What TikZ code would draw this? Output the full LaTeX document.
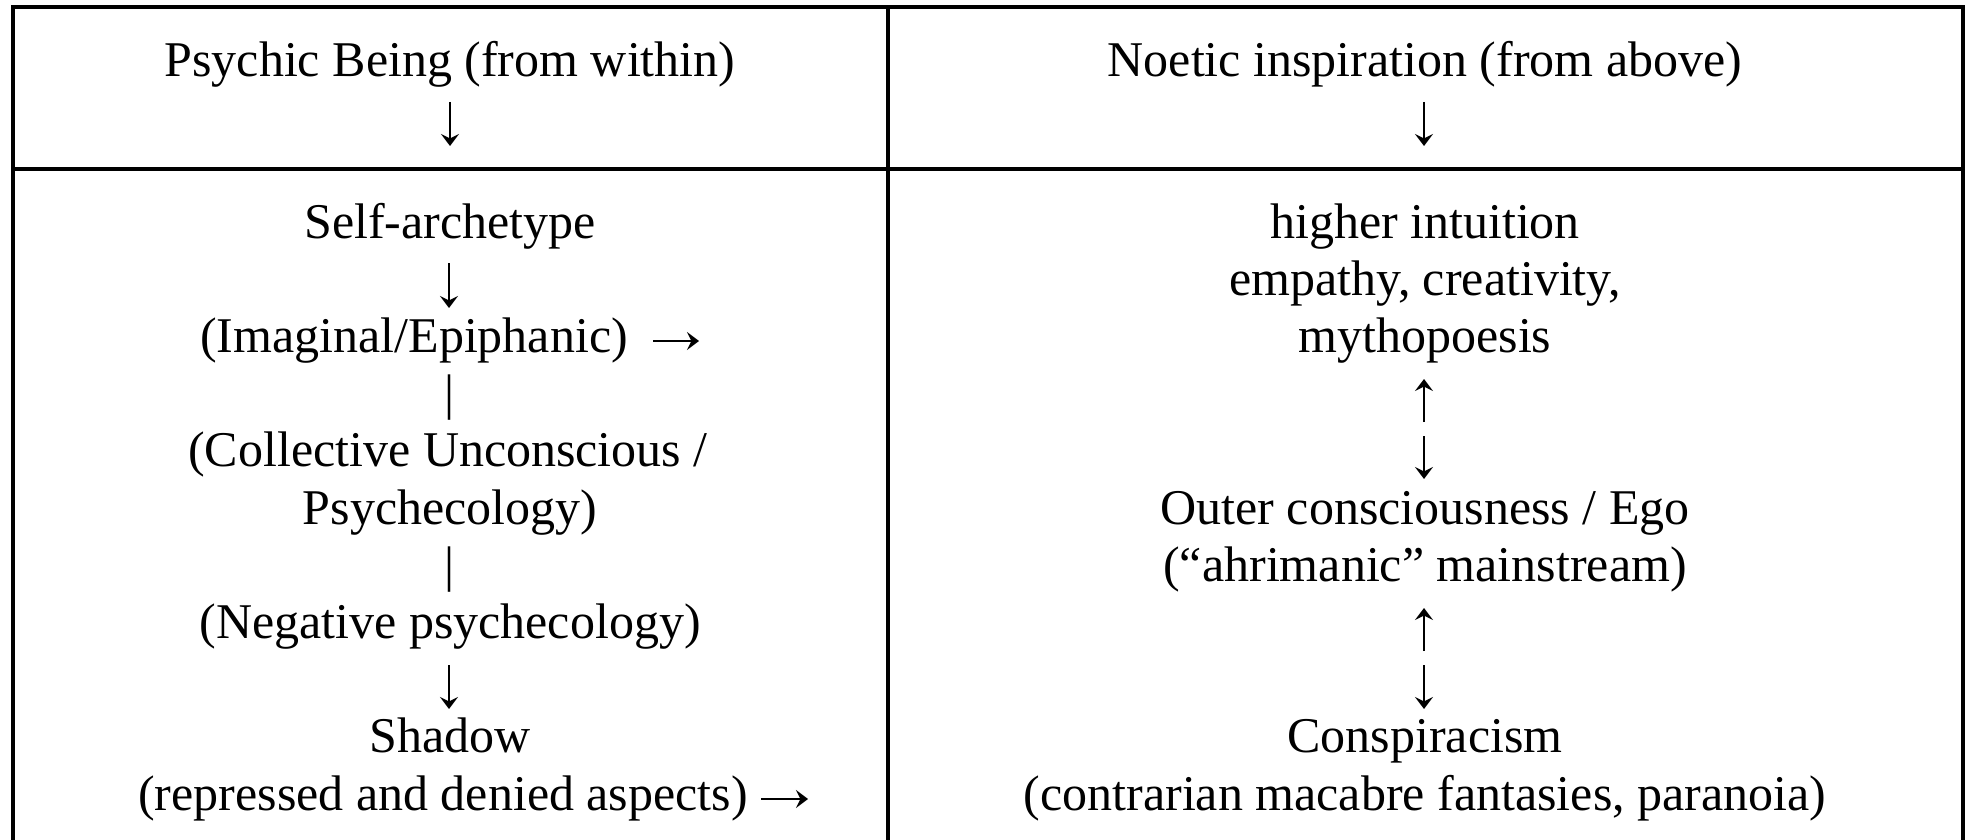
\documentclass[tikz,border=0pt]{standalone}
\usepackage{fontspec}
\setmainfont{Liberation Serif}
\usetikzlibrary{arrows.meta}
\begin{document}
\begin{tikzpicture}[x=0.5pt,y=-0.5pt,
  txt/.style={inner sep=0pt, anchor=base, font=\fontsize{25pt}{28.6pt}\selectfont},
  rule/.style={line width=2pt, line join=miter},
  arr/.style={line width=1pt, -{Stealth[length=6pt,width=9pt,inset=2.2pt]}}]
\useasboundingbox (0,0) rectangle (1983,840);
% table rules
\draw[rule] (13,840) -- (13,7) -- (1963,7) -- (1963,840);
\draw[rule] (13,169) -- (1963,169);
\draw[rule] (888,7) -- (888,840);
% header
\node[txt] (h1) at (450,77) {Psychic Being (from within)};
\node[txt] (h2) at (1425,77) {Noetic inspiration (from above)};
% left column
\node[txt] (l0) at (450,238) {Self-archetype};
\node[txt] (l2) at (414,352.4) {(Imaginal/Epiphanic)};
\node[txt] (l3) at (450,409.6) {|};
\node[txt] (l4) at (448,466.8) {(Collective Unconscious /};
\node[txt] (l5) at (450,524) {Psychecology)};
\node[txt] (l6) at (450,581.2) {|};
\node[txt] (l7) at (450,638.4) {(Negative psychecology)};
\node[txt] (l9) at (450,752.8) {Shadow};
\node[txt] (l10) at (443,810) {(repressed and denied aspects)};
% right column
\node[txt] (r0) at (1425,238) {higher intuition};
\node[txt] (r1) at (1425,295.2) {empathy, creativity,};
\node[txt] (r2) at (1425,352.4) {mythopoesis};
\node[txt] (r5) at (1425,524) {Outer consciousness / Ego};
\node[txt] (r6) at (1425,581.2) {(“ahrimanic” mainstream)};
\node[txt] (r9) at (1425,752.8) {Conspiracism};
\node[txt] (r10) at (1425,810) {(contrarian macabre fantasies, paranoia)};
% arrow end points
\coordinate (ha0) at (450,102);  \coordinate (ha1) at (450,146);
\coordinate (hb0) at (1424,102); \coordinate (hb1) at (1424,146);
\coordinate (la0) at (449,263);  \coordinate (la1) at (449,308);
\coordinate (lb0) at (449,665);  \coordinate (lb1) at (449,709);
\coordinate (lc0) at (653,341);  \coordinate (lc1) at (699,341);
\coordinate (ld0) at (761,799);  \coordinate (ld1) at (808,799);
\coordinate (ra0) at (1424,422); \coordinate (ra1) at (1424,379);
\coordinate (rb0) at (1424,436); \coordinate (rb1) at (1424,479);
\coordinate (rc0) at (1424,651); \coordinate (rc1) at (1424,608);
\coordinate (rd0) at (1424,665); \coordinate (rd1) at (1424,709);
% arrows
\draw[arr] (ha0) -- (ha1);
\draw[arr] (hb0) -- (hb1);
\draw[arr] (la0) -- (la1);
\draw[arr] (lb0) -- (lb1);
\draw[arr] (lc0) -- (lc1);
\draw[arr] (ld0) -- (ld1);
\draw[arr] (ra0) -- (ra1);
\draw[arr] (rb0) -- (rb1);
\draw[arr] (rc0) -- (rc1);
\draw[arr] (rd0) -- (rd1);
\end{tikzpicture}
\end{document}
